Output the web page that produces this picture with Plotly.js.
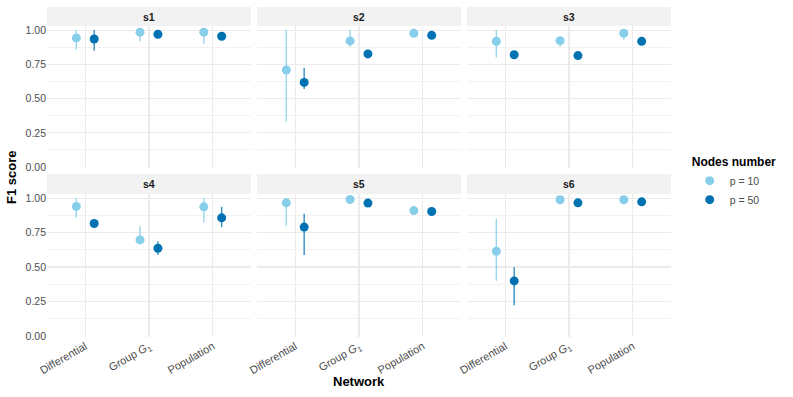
<!DOCTYPE html>
<html>
<head>
<meta charset="utf-8">
<script src="https://cdn.plot.ly/plotly-3.0.1.min.js"></script>
<style>
  html, body { margin: 0; padding: 0; background: #fff; }
  #chart { width: 793px; height: 397px; }
</style>
</head>
<body>
<div id="chart"></div>
<script>
// facet labels and x categories
const panels = ['s1', 's2', 's3', 's4', 's5', 's6'];
const networks = ['Differential', 'Group <i>G</i><sub>1</sub>', 'Population'];
const groups = ['p = 10', 'p = 50'];

// F1 score, one row per panel (Differential, Group G1, Population)
const p10Mean = [
    [0.943, 0.985, 0.985],
    [0.709, 0.921, 0.977],
    [0.918, 0.923, 0.977],
    [0.940, 0.697, 0.937],
    [0.966, 0.990, 0.910],
    [0.615, 0.988, 0.988],
];
const p10Low = [
    [0.857, 0.918, 0.900],
    [0.333, 0.879, 0.960],
    [0.800, 0.880, 0.930],
    [0.857, 0.670, 0.823],
    [0.800, 0.975, 0.895],
    [0.400, 0.975, 0.975],
];
const p10High = [
    [1.000, 1.000, 1.000],
    [1.000, 1.000, 0.990],
    [1.000, 0.955, 1.000],
    [1.000, 0.797, 1.000],
    [1.000, 1.000, 0.925],
    [0.852, 1.000, 1.000],
];
const p50Mean = [
    [0.935, 0.970, 0.955],
    [0.618, 0.826, 0.962],
    [0.820, 0.814, 0.918],
    [0.816, 0.637, 0.857],
    [0.790, 0.964, 0.903],
    [0.400, 0.966, 0.973],
];
const p50Low = [
    [0.850, 0.960, 0.945],
    [0.570, 0.815, 0.945],
    [0.810, 0.805, 0.905],
    [0.800, 0.588, 0.790],
    [0.588, 0.950, 0.890],
    [0.223, 0.955, 0.962],
];
const p50High = [
    [1.000, 0.980, 0.965],
    [0.724, 0.838, 0.977],
    [0.830, 0.824, 0.930],
    [0.830, 0.688, 0.937],
    [0.886, 0.978, 0.915],
    [0.499, 0.977, 0.984],
];

const FONT = "'Liberation Sans', Arial, sans-serif";
const DODGE = 0.14;

const series = [
    { name: groups[0], mean: p10Mean, low: p10Low, high: p10High, offset: -DODGE,
      color: '#87CEEB', bar: 'rgba(135, 206, 235, 0.85)' },
    { name: groups[1], mean: p50Mean, low: p50Low, high: p50High, offset: DODGE,
      color: '#0072B2', bar: 'rgba(0, 114, 178, 0.8)' },
];

// panel geometry in paper fractions
const colDomains = [[0, 0.3269], [0.3365, 0.6635], [0.6731, 1]];
const rowDomains = [[0.5121, 0.9424], [0, 0.4333]];
const stripDomains = [[0.9424, 1], [0.4333, 0.4939]];

const traces = [];
series.forEach(s => {
    panels.forEach((p, i) => {
        const ax = i === 0 ? '' : String(i + 1);
        traces.push({
            x: networks.map((_, j) => j + 1 + s.offset),
            y: s.mean[i],
            xaxis: 'x' + ax,
            yaxis: 'y' + ax,
            type: 'scatter',
            mode: 'markers',
            name: s.name,
            legendgroup: s.name,
            showlegend: i === 0,
            marker: { color: s.color, size: 9 },
            error_y: {
                type: 'data',
                symmetric: false,
                array: s.high[i].map((h, j) => h - s.mean[i][j]),
                arrayminus: s.mean[i].map((m, j) => m - s.low[i][j]),
                color: s.bar,
                thickness: 1.4,
                width: 0,
            },
            hoverinfo: 'skip',
        });
    });
});

const layout = {
    width: 793,
    height: 397,
    margin: { l: 47, r: 122, t: 7, b: 60 },
    paper_bgcolor: '#ffffff',
    plot_bgcolor: '#ffffff',
    font: { family: FONT, color: '#4d4d4d', size: 10 },
    showlegend: true,
    legend: {
        x: 1.03,
        y: 0.565,
        xanchor: 'left',
        yanchor: 'top',
        title: { text: '<b>Nodes number</b>', font: { size: 12, color: '#000000' } },
        font: { size: 10.5, color: '#4d4d4d' },
        itemwidth: 30,
        tracegroupgap: 0,
        bgcolor: 'rgba(0,0,0,0)',
    },
    shapes: [],
    annotations: [
        {
            text: '<b>Network</b>', xref: 'paper', yref: 'paper',
            x: 0.5, y: -0.136, yanchor: 'middle', showarrow: false,
            font: { size: 13, color: '#000000' },
        },
        {
            text: '<b>F1 score</b>', xref: 'paper', yref: 'paper',
            x: -0.056, y: 0.482, xanchor: 'center', yanchor: 'middle',
            textangle: -90, showarrow: false,
            font: { size: 13, color: '#000000' },
        },
    ],
};

panels.forEach((p, i) => {
    const ax = i === 0 ? '' : String(i + 1);
    const row = Math.floor(i / 3);
    const col = i % 3;
    layout['xaxis' + ax] = {
        domain: colDomains[col],
        anchor: 'y' + ax,
        range: [0.4, 3.6],
        tickvals: [1, 2, 3],
        ticktext: networks,
        showticklabels: row === 1,
        tickangle: -30,
        tickfont: { size: 11, color: '#4d4d4d' },
        ticks: '',
        showgrid: true,
        gridcolor: '#ebebeb',
        gridwidth: 1.2,
        zeroline: false,
        showline: false,
        fixedrange: true,
    };
    layout['yaxis' + ax] = {
        domain: rowDomains[row],
        anchor: 'x' + ax,
        range: [-0.007, 1.03],
        tickvals: [0, 0.25, 0.5, 0.75, 1],
        ticktext: ['0.00', '0.25', '0.50', '0.75', '1.00'],
        showticklabels: col === 0,
        tickfont: { size: 10.5, color: '#4d4d4d' },
        ticks: '',
        showgrid: true,
        gridcolor: '#ebebeb',
        gridwidth: 1.2,
        minor: { tickvals: [0.125, 0.375, 0.625, 0.875], showgrid: true, gridcolor: '#f2f2f2', gridwidth: 1, ticks: '' },
        zeroline: false,
        showline: false,
        fixedrange: true,
    };
    // facet strip
    layout.shapes.push({
        type: 'rect', xref: 'paper', yref: 'paper', layer: 'below',
        x0: colDomains[col][0], x1: colDomains[col][1],
        y0: stripDomains[row][0], y1: stripDomains[row][1],
        fillcolor: '#f2f2f2', line: { width: 0 },
    });
    layout.annotations.push({
        text: '<b>' + p + '</b>', xref: 'paper', yref: 'paper',
        x: (colDomains[col][0] + colDomains[col][1]) / 2,
        y: (stripDomains[row][0] + stripDomains[row][1]) / 2,
        xanchor: 'center', yanchor: 'middle', showarrow: false,
        font: { size: 10.5, color: '#1a1a1a' },
    });
});

Plotly.newPlot('chart', traces, layout, { displayModeBar: false, staticPlot: true });
</script>
</body>
</html>
